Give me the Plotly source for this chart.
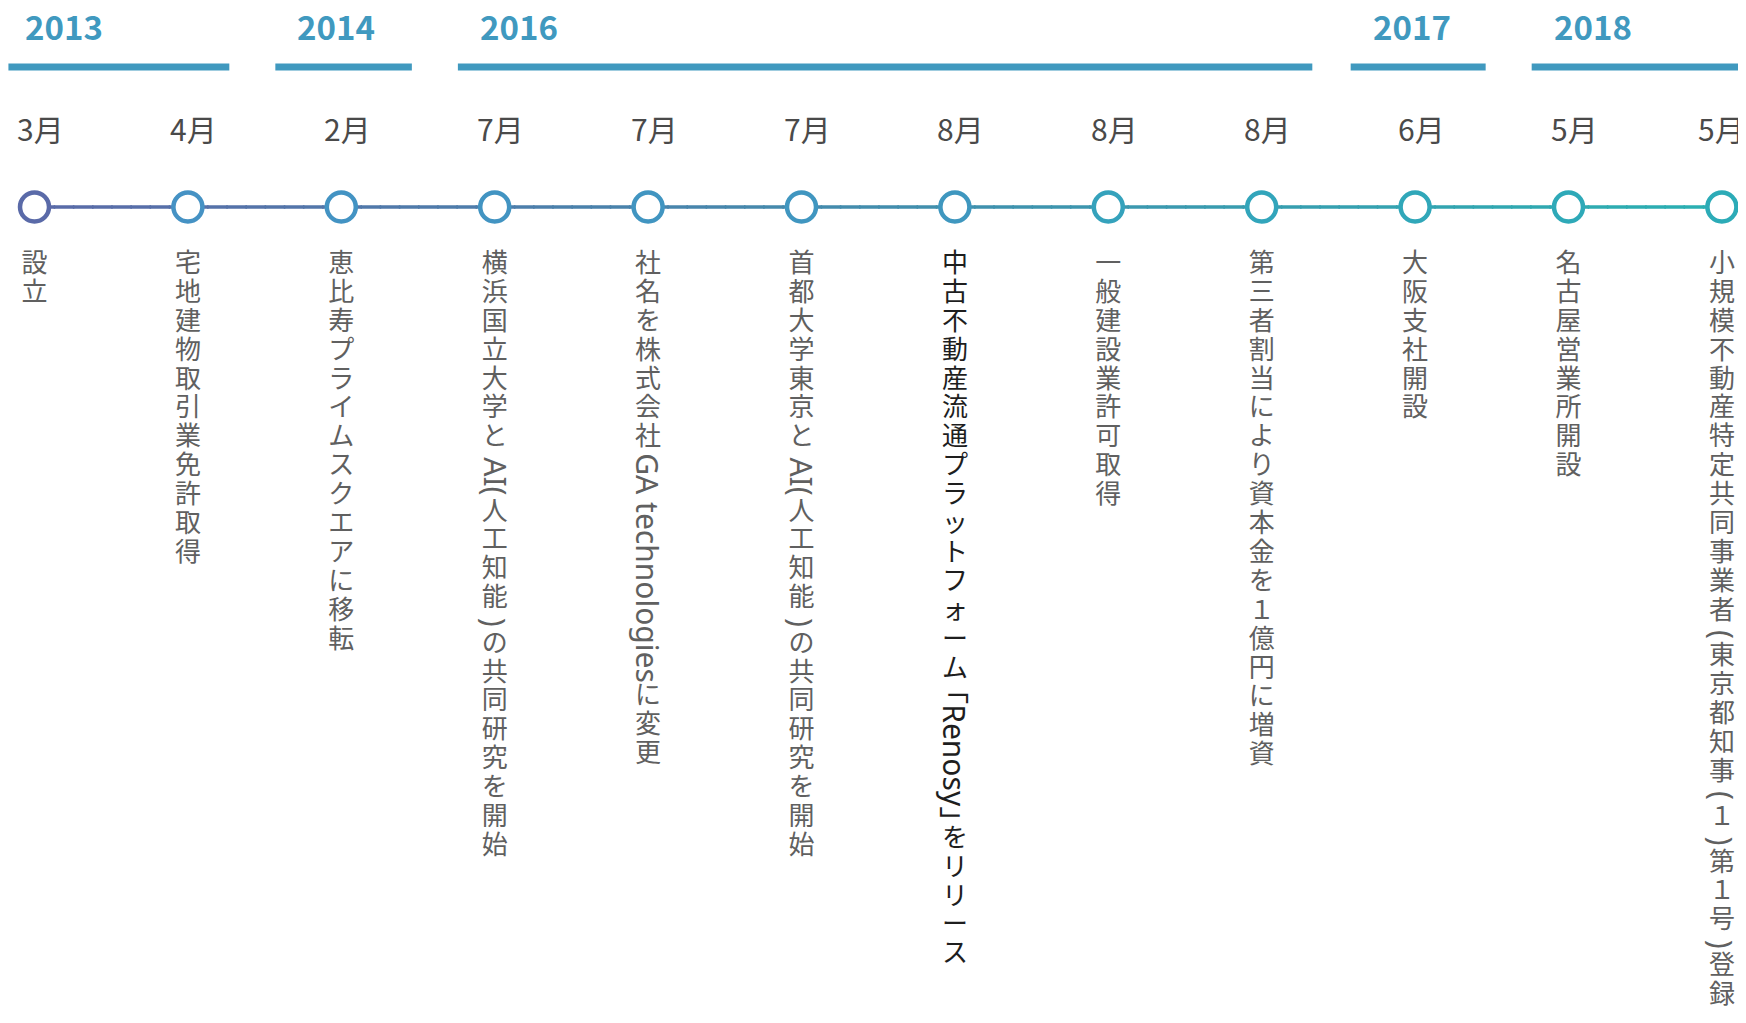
from itertools import groupby
import plotly.graph_objects as go

# ---- data ----
years = ["2013", "2014", "2016", "2017", "2018"]
year_first = [0, 2, 3, 9, 10]
year_last = [1, 2, 8, 9, 11]
months = ["3月", "4月", "2月", "7月", "7月", "7月", "8月", "8月", "8月", "6月", "5月", "5月"]
events = [
    "設立",
    "宅地建物取引業免許取得",
    "恵比寿プライムスクエアに移転",
    "横浜国立大学とAI(人工知能)の共同研究を開始",
    "社名を株式会社GA technologiesに変更",
    "首都大学東京とAI(人工知能)の共同研究を開始",
    "中古不動産流通プラットフォーム「Renosy」をリリース",
    "一般建設業許可取得",
    "第三者割当により資本金を１億円に増資",
    "大阪支社開設",
    "名古屋営業所開設",
    "小規模不動産特定共同事業者(東京都知事(１)第１号)登録",
]

# ---- layout / style ----
# the page body adds an 8px margin, so the figure is 8px smaller than the window
W, H = 1738, 1015
X0, STEP = 26.5, 153.4          # pixel of first node, pixels per node
FONT = "Noto Sans CJK JP"
LATIN = "Noto Sans"
BLUE = "#4099bf"
bar_pad_left = [0.17, 0.43, 0.24, 0.42, 0.24]
bar_pad_right = [0.27, 0.46, 0.33, 0.46, 0.11]
Y_YEAR, Y_BAR, Y_MONTH, Y_NODE = 18, 59, 120, 199
DESC_TOP, PITCH, DESC_SIZE, LATIN_SIZE = 243, 28.9, 26, 30
node_colors = ["#5a6aa8", "#4592c4", "#4393c3", "#4294c2", "#4195c1", "#4096c0",
               "#3f97bf", "#35a2bc", "#32a5bb", "#30a7b9", "#2ea9b8", "#2cabb7"]


def mix(c1, c2, t):
    a = [int(c1[k:k + 2], 16) for k in (1, 3, 5)]
    b = [int(c2[k:k + 2], 16) for k in (1, 3, 5)]
    return "#" + "".join(f"{round(p + (q - p) * t):02x}" for p, q in zip(a, b))


def is_rotated(c):
    return ord(c) < 128 or c in "「」"


def char_w(c):
    # rough advance widths (em) of the sideways latin glyphs
    if c in "「」":
        return 0.6
    if c == " ":
        return 0.26
    if c in "()":
        return 0.55
    if c in "ilI":
        return 0.3
    if c == "t":
        return 0.36
    if c.isupper():
        return 0.66
    return 0.57


fig = go.Figure()
shapes, annotations = [], []

# connecting line with gradient
n = len(events)
sub = 8
for k in range((n - 1) * sub):
    x_a, x_b = k / sub, (k + 1) / sub
    shapes.append(dict(type="line", xref="x", yref="y", x0=x_a, x1=x_b + 0.01, y0=Y_NODE, y1=Y_NODE,
                       line=dict(color=mix("#5a6aa8", "#2ab0b2", (k + 0.5) / ((n - 1) * sub)), width=3.5),
                       layer="below"))

# year bars and labels
for j, yr in enumerate(years):
    x_s = year_first[j] - bar_pad_left[j]
    x_e = year_last[j] + bar_pad_right[j]
    shapes.append(dict(type="line", xref="x", yref="y", x0=x_s, x1=x_e, y0=Y_BAR, y1=Y_BAR,
                       line=dict(color=BLUE, width=7), layer="below"))
    annotations.append(dict(x=x_s, y=Y_YEAR, text=f"<b>{yr}</b>", showarrow=False,
                            xanchor="left", yanchor="middle", xshift=21 if j else 16, borderpad=0,
                            font=dict(family=FONT, size=33, color=BLUE)))

# month labels
for i, m in enumerate(months):
    annotations.append(dict(x=i, y=Y_MONTH, text=m, showarrow=False, xanchor="center",
                            yanchor="middle", xshift=6 if i < n - 1 else 0,
                            font=dict(family=FONT, size=30, color="#4a4a4a")))

# nodes
fig.add_trace(go.Scatter(x=list(range(n)), y=[Y_NODE] * n, mode="markers", hoverinfo="skip",
                         marker=dict(size=29, color="white", line=dict(width=4.5, color=node_colors))))

# vertical descriptions
for i, text in enumerate(events):
    color = "#1e1e1e" if i == 6 else "#606060"
    y = DESC_TOP
    up_y, up_c = [], []
    for rot, grp in groupby(text, key=is_rotated):
        s = "".join(grp)
        if rot:
            w = sum(char_w(c) for c in s) * LATIN_SIZE
            annotations.append(dict(x=i, y=y + w / 2, text=s, textangle=90, showarrow=False,
                                    xanchor="center", yanchor="middle",
                                    font=dict(family=f"{LATIN}, {FONT}", size=LATIN_SIZE, color=color)))
            y += w
        else:
            for c in s:
                up_y.append(y + PITCH / 2)
                up_c.append(c)
                y += PITCH
    fig.add_trace(go.Scatter(x=[i] * len(up_c), y=up_y, text=up_c, mode="text", hoverinfo="skip",
                             textposition="middle center",
                             textfont=dict(family=FONT, size=DESC_SIZE, color=color)))

fig.update_layout(
    width=W, height=H, margin=dict(l=0, r=0, t=0, b=0),
    paper_bgcolor="white", plot_bgcolor="white", showlegend=False,
    shapes=shapes, annotations=annotations,
    xaxis=dict(range=[-X0 / STEP, (W - X0) / STEP], visible=False, fixedrange=True),
    yaxis=dict(range=[H, 0], visible=False, fixedrange=True),
)

fig.write_html("out.html")
